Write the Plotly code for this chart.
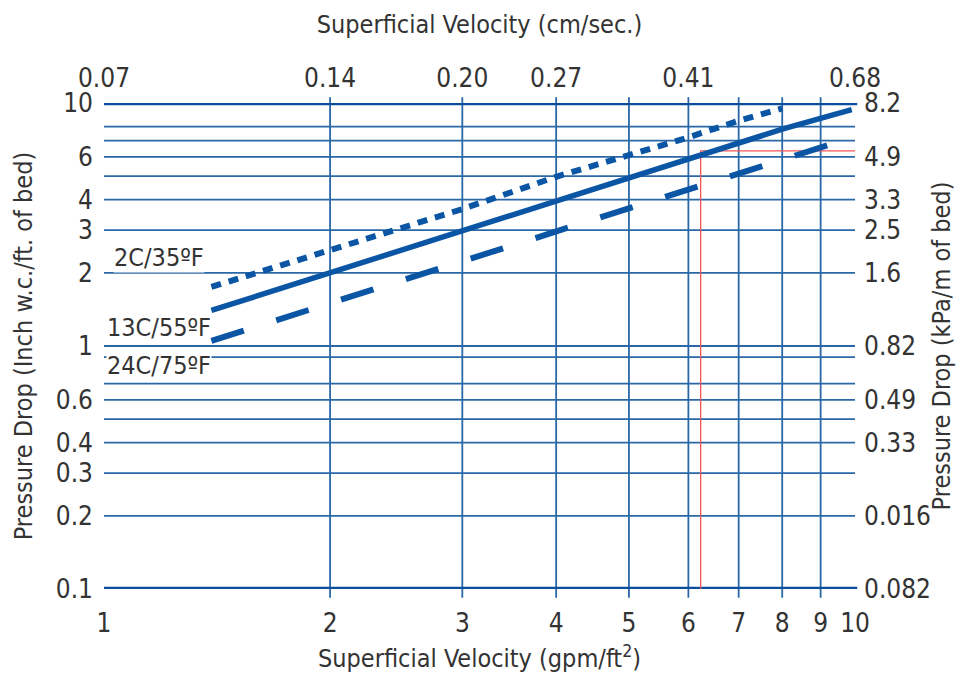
import plotly.graph_objects as go

# ---------------- data ----------------
# Superficial velocity (gpm/ft^2) vs pressure drop (inch w.c./ft of bed)
vel_2c = [1.39, 2, 3, 4, 5, 6, 7, 8]
dp_2c = [1.75, 2.49, 3.66, 4.97, 6.08, 7.22, 8.45, 9.5]

vel_13c = [1.39, 2, 3, 4, 5, 6, 7, 8, 9.9]
dp_13c = [1.40, 2.0, 3.0, 3.95, 4.95, 5.9, 6.9, 7.8, 9.4]

vel_24c = [1.39, 2, 3, 4, 6, 8, 9.9]
dp_24c = [1.05, 1.50, 2.22, 2.94, 4.35, 5.8, 7.2]

# example reading (red guide)
read_vel = [6.23, 6.23, 10]
read_dp = [0.1, 6.35, 6.35]

series_names = ["2C/35ºF", "13C/55ºF", "24C/75ºF"]

# bottom axis ticks (gpm/ft^2)
x_ticks = [1, 2, 3, 4, 5, 6, 7, 8, 9, 10]
x_ticktext = ["1", "2", "3", "4", "5", "6", "7", "8", "9", "10"]
# top axis ticks (cm/sec)
top_ticks = [1, 2, 3, 4, 6, 10]
top_ticktext = ["0.07", "0.14", "0.20", "0.27", "0.41", "0.68"]
# left axis ticks (inch w.c./ft)
y_ticks = [10, 6, 4, 3, 2, 1, 0.6, 0.4, 0.3, 0.2, 0.1]
y_ticktext = ["10", "6", "4", "3", "2", "1", "0.6", "0.4", "0.3", "0.2", "0.1"]
# right axis ticks (kPa/m)
r_ticks = [10, 6, 4, 3, 2, 1, 0.6, 0.4, 0.2, 0.1]
r_ticktext = ["8.2", "4.9", "3.3", "2.5", "1.6", "0.82", "0.49", "0.33", "0.016", "0.082"]

# grid values
v_grid = [2, 3, 4, 5, 6, 7, 8, 9]
h_grid = [8, 7, 6, 5, 4, 3, 2, 1, 0.9, 0.7, 0.6, 0.5, 0.4, 0.3, 0.2]
h_frame = [10, 0.1]

# ---------------- style ----------------
FONT = "Liberation Sans Narrow, DejaVu Sans Condensed, Arial Narrow, Roboto Condensed, sans-serif"
TXT = "#333333"
LINE_C = "#0b56a4"
GRID_C = "#2a67a6"
FRAME_C = "#0b4f9c"
RED = "#f25555"

fig = go.Figure()

fig.add_trace(go.Scatter(x=read_vel, y=read_dp, mode="lines",
                         line=dict(color=RED, width=1.3), hoverinfo="skip",
                         showlegend=False))
fig.add_trace(go.Scatter(x=vel_2c, y=dp_2c, mode="lines", name=series_names[0],
                         line=dict(color=LINE_C, width=6, dash="10px,8px")))
fig.add_trace(go.Scatter(x=vel_13c, y=dp_13c, mode="lines", name=series_names[1],
                         line=dict(color=LINE_C, width=5.5)))
fig.add_trace(go.Scatter(x=vel_24c, y=dp_24c, mode="lines", name=series_names[2],
                         line=dict(color=LINE_C, width=6, dash="34px,34px")))
# invisible trace to activate secondary axes
fig.add_trace(go.Scatter(x=[1, 10], y=[0.1, 10], xaxis="x2", yaxis="y2",
                         mode="markers", marker=dict(opacity=0), hoverinfo="skip",
                         showlegend=False))

shapes = []
for v in v_grid:
    shapes.append(dict(type="line", xref="x", yref="paper", x0=v, x1=v,
                       y0=-0.018, y1=1.012, layer="below",
                       line=dict(color=GRID_C, width=1.8)))
for h in h_grid:
    shapes.append(dict(type="line", xref="paper", yref="y", x0=0, x1=1.0,
                       y0=h, y1=h, layer="below",
                       line=dict(color=GRID_C, width=1.8)))
for h in h_frame:
    shapes.append(dict(type="line", xref="paper", yref="y", x0=0, x1=1.003,
                       y0=h, y1=h, layer="below",
                       line=dict(color=FRAME_C, width=4.5)))

label_font = dict(family=FONT, size=25, color=TXT)
lab_x = 0.073
annotations = [
    dict(x=lab_x, y=0.683, text=series_names[0], bgcolor="white"),
    dict(x=lab_x, y=0.538, text=series_names[1], bgcolor="rgba(0,0,0,0)"),
    dict(x=lab_x, y=0.460, text=series_names[2], bgcolor="white"),
]
for a in annotations:
    a.update(xref="paper", yref="paper", xanchor="center", yanchor="middle",
             showarrow=False, font=label_font, borderpad=0)

tickfont = dict(family=FONT, size=26, color=TXT)
titlefont = dict(family=FONT, size=25, color=TXT)

fig.update_layout(
    width=956, height=675,
    margin=dict(l=104, r=101, t=103, b=86, autoexpand=False),
    paper_bgcolor="white", plot_bgcolor="white",
    showlegend=False,
    shapes=shapes, annotations=annotations,
    xaxis=dict(type="log", range=[0, 1], tickvals=x_ticks, ticktext=x_ticktext,
               showgrid=False, zeroline=False, showline=False, ticks="",
               automargin=False,
               tickfont=tickfont, ticklabelstandoff=16,
               title=dict(text="Superficial Velocity (gpm/ft<sup>2</sup>)",
                          font=titlefont, standoff=12)),
    xaxis2=dict(type="log", range=[0, 1], overlaying="x", side="top",
                tickvals=top_ticks, ticktext=top_ticktext, showgrid=False,
                zeroline=False, showline=False, ticks="", tickfont=tickfont,
                automargin=False, ticklabelstandoff=10,
                title=dict(text="Superficial Velocity (cm/sec.)", font=titlefont,
                           standoff=22)),
    yaxis=dict(type="log", range=[-1, 1], tickvals=y_ticks, ticktext=y_ticktext,
               showgrid=False, zeroline=False, showline=False, ticks="",
               automargin=False,
               tickfont=tickfont, ticklabelstandoff=10,
               title=dict(text="Pressure Drop (Inch w.c./ft. of bed)",
                          font=titlefont, standoff=16)),
    yaxis2=dict(type="log", range=[-1, 1], overlaying="y", side="right",
                tickvals=r_ticks, ticktext=r_ticktext, showgrid=False,
                zeroline=False, showline=False, ticks="", tickfont=tickfont,
                automargin=False, ticklabelstandoff=8,
                title=dict(text="Pressure Drop (kPa/m of bed)", font=titlefont,
                           standoff=2)),
)

fig.write_html("out.html")
